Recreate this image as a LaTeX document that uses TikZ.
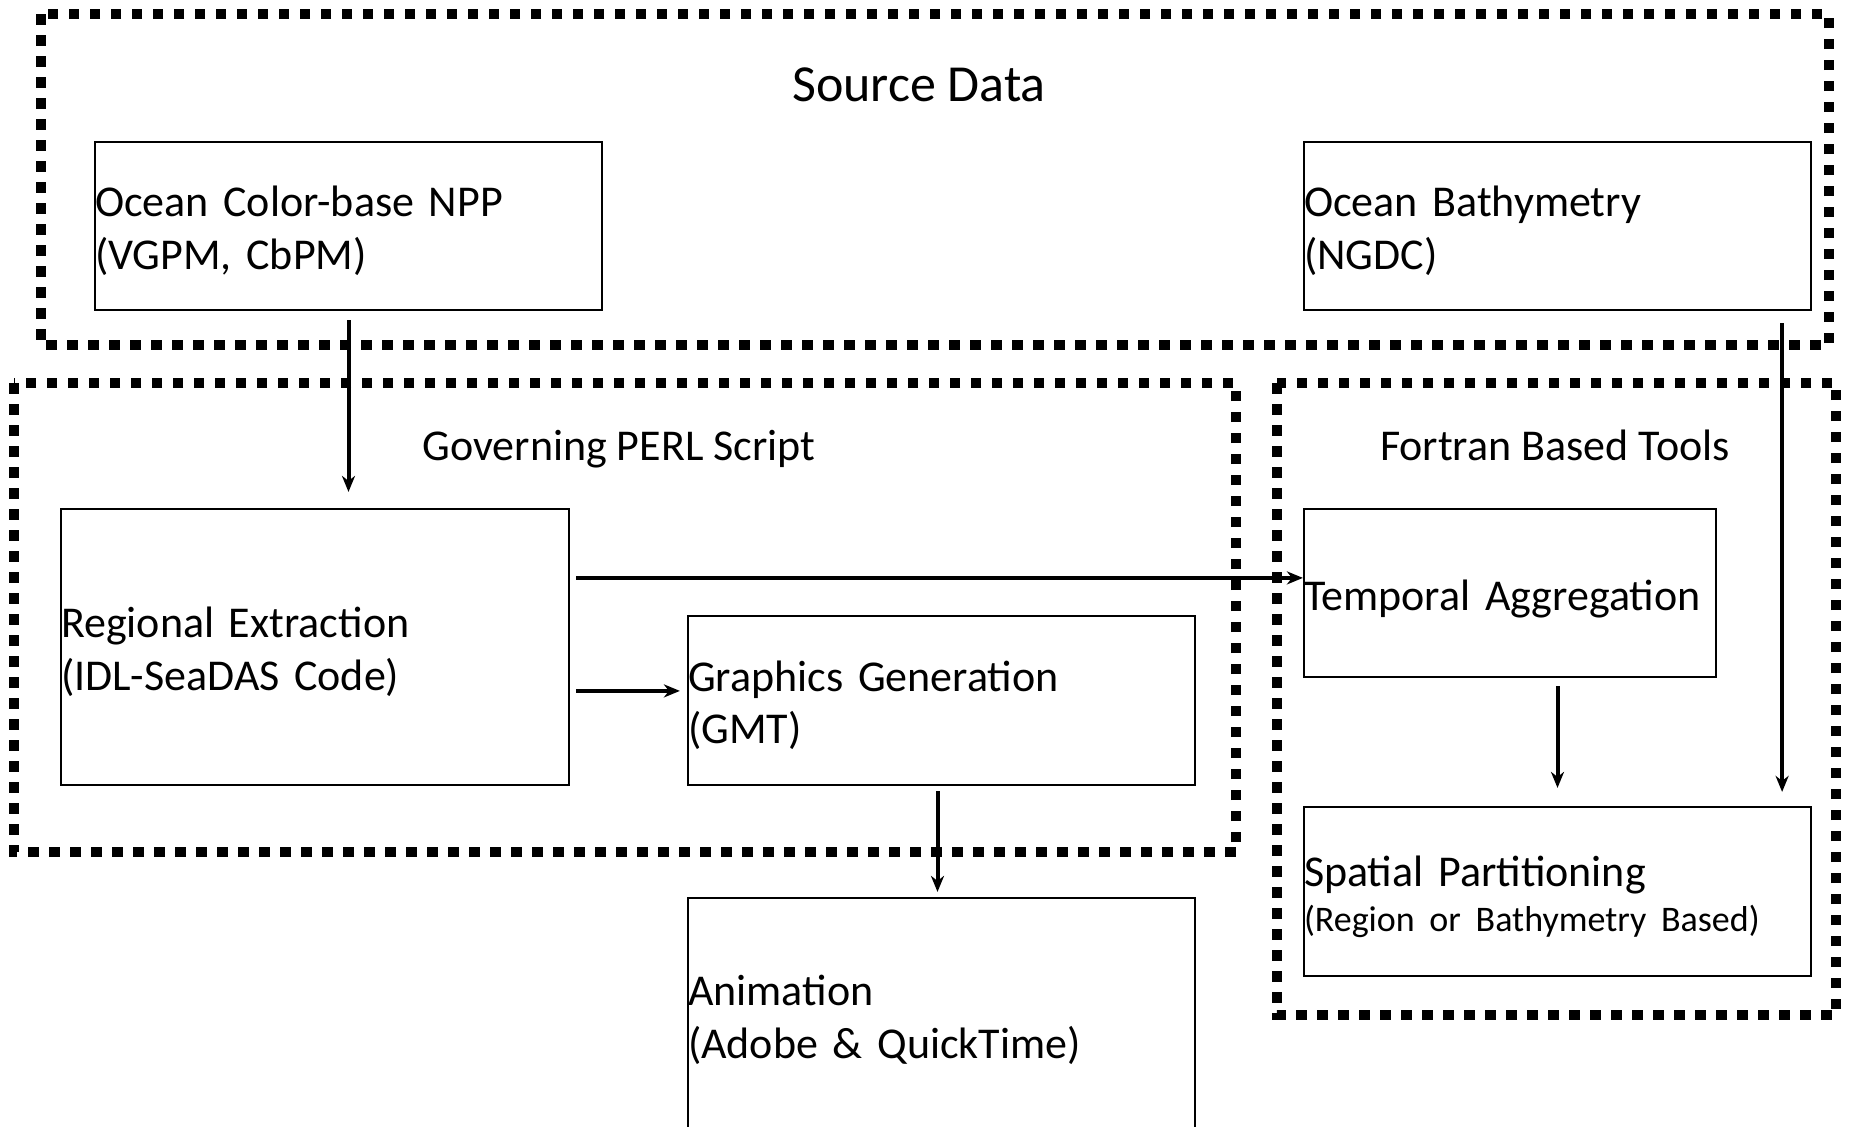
\documentclass[tikz,border=0pt]{standalone}
\usepackage{fontspec}
\setmainfont{Carlito}
\usetikzlibrary{arrows.meta,calc}

\tikzset{
  groupframe/.style={line width=5pt, line cap=butt, dash pattern=on 5.25pt off 5.25pt},
  procbox/.style={draw, line width=1.1pt, inner sep=0pt, align=left, anchor=center,
    font=\fontsize{22pt}{26.4pt}\selectfont, text height=21.7pt},
  oneline/.style={text depth=4.7pt},
  twoline/.style={text depth=31.1pt},
  grouptitle/.style={font=\fontsize{22pt}{26.4pt}\selectfont, anchor=base, inner sep=0pt},
  bigtitle/.style={font=\fontsize{26pt}{31.2pt}\selectfont, anchor=base, inner sep=0pt},
  flow/.style={line width=2pt, -{Stealth[length=8pt,width=6.5pt,inset=2.5pt]}},
}

\begin{document}
\begin{tikzpicture}[x=0.5pt, y=-0.5pt]
  \useasboundingbox (0,0) rectangle (1851,1126);
  \clip (0,0) rectangle (1851,1126);

  % group frames
  \draw[groupframe] (41,14) rectangle (1829,345);
  \draw[groupframe] (14,383) rectangle (1236,852);
  \draw[groupframe] (1277,383) rectangle (1836,1015);

  % group titles
  \node[bigtitle]   (tsrc)  at (919,101)  {Source Data};
  \node[grouptitle] (tperl) at (619,460)  {Governing PERL Script};
  \node[grouptitle] (tfort) at (1555,460) {Fortran Based Tools};

  % source data
  \node[procbox, twoline, text width=253.5pt, minimum height=84pt] (ocean) at (348.5,226)
    {Ocean Color-base NPP\\(VGPM, CbPM)};
  \node[procbox, twoline, text width=253.5pt, minimum height=84pt] (bathy) at (1557.5,226)
    {Ocean Bathymetry\\(NGDC)};

  % governing PERL script
  \node[procbox, twoline, text width=254pt, minimum height=138pt] (regional) at (315,647)
    {Regional Extraction\\(IDL-SeaDAS Code)};
  \node[procbox, twoline, text width=253.5pt, minimum height=84.5pt] (graphics) at (941.5,700.5)
    {Graphics Generation\\(GMT)};

  % animation output
  \node[procbox, twoline, text width=253.5pt, minimum height=117pt] (anim) at (941.5,1015)
    {Animation\\(Adobe \& QuickTime)};

  % fortran based tools
  \node[procbox, oneline, text width=206pt, minimum height=84pt] (temporal) at (1510,593)
    {Temporal Aggregation};
  \node[procbox, text depth=26.35pt, text width=253.5pt, minimum height=84.5pt] (spatial) at (1557.5,891.5)
    {Spatial Partitioning\\[-3.9pt]{\fontsize{18pt}{21.6pt}\selectfont(Region or Bathymetry Based)}};

  % data flow
  \draw[flow, shorten <=4.5pt, shorten >=8pt] (ocean.south) -- (ocean.south |- regional.north);
  \draw[flow, shorten <=6pt, shorten >=7pt]
    ($(bathy.south east)+(-30,0)$) -- ($(spatial.north east)+(-30,0)$);
  \draw[flow, shorten <=3pt]
    ($(regional.north east)+(0,70)$) -- ($(temporal.north west)+(0,70)$);
  \draw[flow, shorten <=3pt, shorten >=3.5pt]
    ($(regional.north east)+(0,183)$) -- ($(graphics.north west)+(0,76)$);
  \draw[flow, shorten <=4pt, shorten >=9pt] (temporal.south -| spatial.north) -- (spatial.north);
  \draw[flow, shorten <=2.5pt, shorten >=2.5pt]
    ($(graphics.south)+(-4,0)$) -- ($(anim.north)+(-4,0)$);
\end{tikzpicture}
\end{document}
